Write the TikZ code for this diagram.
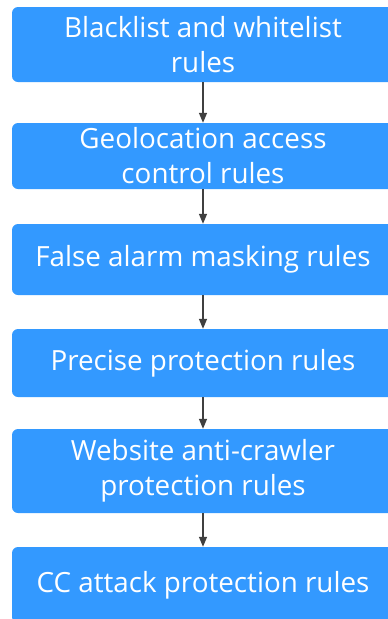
\documentclass[tikz,border=0pt]{standalone}
\usepackage{fontspec}
\setmainfont{Open Sans}
\usetikzlibrary{arrows.meta}
\definecolor{rulebox}{RGB}{51,153,255}
\definecolor{flowarrow}{RGB}{64,64,64}
\tikzset{
  x=1pt, y=-1pt,
  rulebox/.style={fill=rulebox, rounded corners=6pt, text=white,
    minimum width=382pt, inner sep=0pt, align=center,
    font=\fontsize{27.8}{35}\selectfont},
  flow/.style={draw=flowarrow, line width=1.4pt,
    -{Triangle[length=10pt,width=8pt]}}
}
\begin{document}
\begin{tikzpicture}
\useasboundingbox (0,0) rectangle (388,619);
\clip (0,0) rectangle (388,619);
\node[rulebox, minimum height=75pt] (b1) at (203,44.5) {Blacklist and whitelist\\rules};
\node[rulebox, minimum height=66pt] (b2) at (203,156) {Geolocation access\\control rules};
\node[rulebox, minimum height=71pt] (b3) at (203,259.5) {False alarm masking rules};
\node[rulebox, minimum height=68pt] (b4) at (203,363) {Precise protection rules};
\node[rulebox, minimum height=84pt] (b5) at (203,471) {Website anti-crawler\\protection rules};
\node[rulebox, minimum height=76pt] (b6) at (203,585) {CC attack protection rules};
\draw[flow] (b1) -- (b2);
\draw[flow] (b2) -- (b3);
\draw[flow] (b3) -- (b4);
\draw[flow] (b4) -- (b5);
\draw[flow] (b5) -- (b6);
\end{tikzpicture}
\end{document}
